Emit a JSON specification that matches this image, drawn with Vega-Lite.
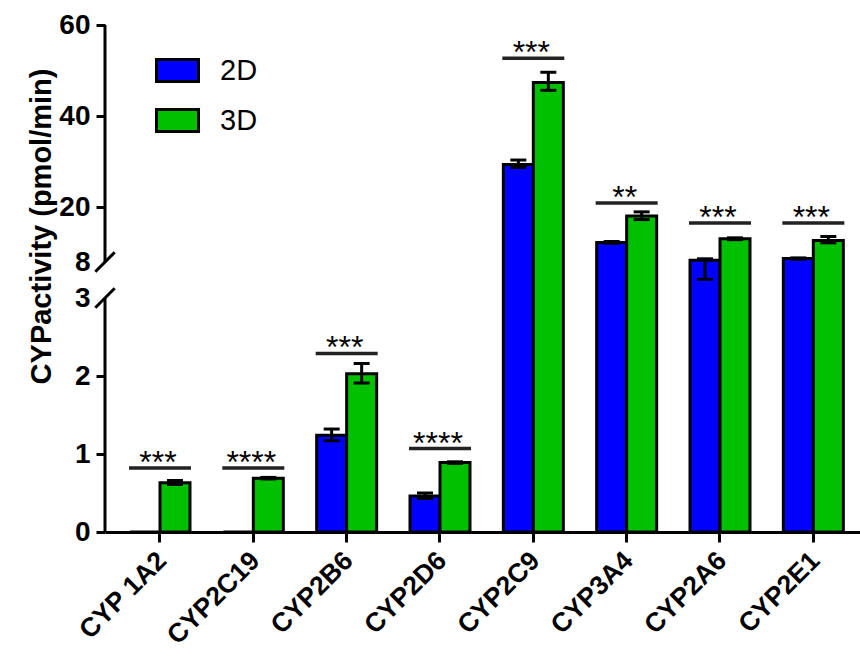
{
  "$schema": "https://vega.github.io/schema/vega-lite/v6.json",
  "width": 755,
  "height": 507,
  "autosize": {"type": "none"},
  "padding": {"left": 105, "top": 25, "right": 0, "bottom": 119},
  "config": {"view": {"stroke": null}, "font": "Liberation Sans"},
  "datasets": {
    "bars": [
      {"cyp": "CYP 1A2", "grp": "2D", "value": 0, "lo": null, "hi": null},
      {"cyp": "CYP 1A2", "grp": "3D", "value": 0.63, "lo": 0.61, "hi": 0.66},
      {"cyp": "CYP2C19", "grp": "2D", "value": 0, "lo": null, "hi": null},
      {"cyp": "CYP2C19", "grp": "3D", "value": 0.69, "lo": 0.68, "hi": 0.70},
      {"cyp": "CYP2B6", "grp": "2D", "value": 1.24, "lo": 1.17, "hi": 1.32},
      {"cyp": "CYP2B6", "grp": "3D", "value": 2.03, "lo": 1.91, "hi": 2.16},
      {"cyp": "CYP2D6", "grp": "2D", "value": 0.46, "lo": 0.43, "hi": 0.50},
      {"cyp": "CYP2D6", "grp": "3D", "value": 0.89, "lo": 0.88, "hi": 0.90},
      {"cyp": "CYP2C9", "grp": "2D", "value": 29.4, "lo": 28.75, "hi": 30.37},
      {"cyp": "CYP2C9", "grp": "3D", "value": 47.4, "lo": 45.67, "hi": 49.63},
      {"cyp": "CYP3A4", "grp": "2D", "value": 12.3, "lo": 12.1, "hi": 12.5},
      {"cyp": "CYP3A4", "grp": "3D", "value": 18.1, "lo": 17.3, "hi": 19.0},
      {"cyp": "CYP2A6", "grp": "2D", "value": 8.4, "lo": 5.6, "hi": 8.7},
      {"cyp": "CYP2A6", "grp": "3D", "value": 13.1, "lo": 12.9, "hi": 13.3},
      {"cyp": "CYP2E1", "grp": "2D", "value": 8.75, "lo": 8.6, "hi": 8.9},
      {"cyp": "CYP2E1", "grp": "3D", "value": 12.7, "lo": 12.2, "hi": 13.6}
    ],
    "sig": [
      {"cyp": "CYP 1A2", "y": 0.82, "label": "***"},
      {"cyp": "CYP2C19", "y": 0.82, "label": "****"},
      {"cyp": "CYP2B6", "y": 2.29, "label": "***"},
      {"cyp": "CYP2D6", "y": 1.07, "label": "****"},
      {"cyp": "CYP2C9", "y": 52.7, "label": "***"},
      {"cyp": "CYP3A4", "y": 20.95, "label": "**"},
      {"cyp": "CYP2A6", "y": 16.55, "label": "***"},
      {"cyp": "CYP2E1", "y": 16.55, "label": "***"}
    ],
    "axisseg": [{"lo": 0, "hi": 3}, {"lo": 8, "hi": 60}],
    "axisbreak": [{"at": 8}, {"at": 3}]
  },
  "layer": [
    {
      "layer": [
        {
          "data": {"name": "bars"},
          "mark": {"type": "bar", "stroke": "black", "strokeWidth": 3, "opacity": 1},
          "encoding": {
            "x": {
              "field": "cyp", "type": "nominal",
              "scale": {"domain": ["CYP 1A2", "CYP2C19", "CYP2B6", "CYP2D6", "CYP2C9", "CYP3A4", "CYP2A6", "CYP2E1"], "paddingInner": 0, "paddingOuter": 0.0446, "align": 1},
              "axis": {
                "orient": "bottom",
                "title": null, "labelAngle": -45, "labelFontSize": 26.5, "labelFontWeight": "bold", "labelColor": "black",
                "domainColor": "black", "domainWidth": 3, "tickColor": "black", "tickWidth": 3, "tickSize": 10,
                "labelPadding": 5, "labelOffset": -7, "grid": false, "labelOverlap": false, "labelLimit": 0
              }
            },
            "xOffset": {"field": "grp", "type": "nominal", "scale": {"domain": ["2D", "3D"], "paddingInner": 0, "paddingOuter": 0.556}},
            "y": {
              "field": "value", "type": "quantitative",
              "scale": {"type": "linear", "domain": [0, 3, 8, 60], "range": [507, 273, 237, 0], "nice": false, "zero": false},
              "axis": {
                "orient": "left",
                "title": "CYPactivity (pmol/min)", "titleFontSize": 29, "titleFontWeight": "bold", "titleColor": "black",
                "titlePadding": 2, "titleY": 201,
                "values": [0, 1, 2, 3, 8, 20, 40, 60], "domain": false, "grid": false,
                "tickColor": "black", "tickWidth": 3, "tickSize": 9,
                "tickOpacity": {"condition": {"test": "datum.value == 3 || datum.value == 8", "value": 0}, "value": 1},
                "labelFontSize": 28, "labelFontWeight": "bold", "labelColor": "black", "labelPadding": 6
              }
            },
            "color": {
              "field": "grp", "type": "nominal",
              "scale": {"domain": ["2D", "3D"], "range": ["#0000FF", "#00C000"]},
              "legend": {
                "title": null, "orient": "none", "legendX": 50, "legendY": 23, "padding": 0,
                "symbolType": "M-1,-0.52H1V0.52H-1Z", "symbolSize": 1764,
                "symbolStrokeColor": "black", "symbolStrokeWidth": 3, "symbolOpacity": 1,
                "labelFontSize": 29, "labelColor": "black", "labelOffset": 20, "rowPadding": 10
              }
            }
          }
        },
        {
          "data": {"name": "bars"},
          "transform": [{"filter": {"field": "lo", "valid": true}}],
          "mark": {"type": "rule", "color": "black", "strokeWidth": 3},
          "encoding": {
            "x": {"field": "cyp", "type": "nominal"},
            "xOffset": {"field": "grp", "type": "nominal"},
            "y": {"field": "lo", "type": "quantitative"},
            "y2": {"field": "hi"}
          }
        },
        {
          "data": {"name": "bars"},
          "transform": [{"filter": {"field": "lo", "valid": true}}],
          "mark": {"type": "tick", "color": "black", "size": 16, "thickness": 3, "opacity": 1},
          "encoding": {
            "x": {"field": "cyp", "type": "nominal"},
            "xOffset": {"field": "grp", "type": "nominal"},
            "y": {"field": "hi", "type": "quantitative"}
          }
        },
        {
          "data": {"name": "bars"},
          "transform": [{"filter": {"field": "lo", "valid": true}}],
          "mark": {"type": "tick", "color": "black", "size": 16, "thickness": 3, "opacity": 1},
          "encoding": {
            "x": {"field": "cyp", "type": "nominal"},
            "xOffset": {"field": "grp", "type": "nominal"},
            "y": {"field": "lo", "type": "quantitative"}
          }
        },
        {
          "data": {"name": "sig"},
          "mark": {"type": "tick", "color": "#222222", "size": 62, "thickness": 3.5, "opacity": 1},
          "encoding": {
            "x": {"field": "cyp", "type": "nominal"},
            "y": {"field": "y", "type": "quantitative"}
          }
        },
        {
          "data": {"name": "sig"},
          "mark": {"type": "text", "fontSize": 32, "color": "black", "baseline": "alphabetic", "dy": 5, "dx": -2},
          "encoding": {
            "x": {"field": "cyp", "type": "nominal"},
            "y": {"field": "y", "type": "quantitative"},
            "text": {"field": "label"}
          }
        }
      ]
    },
    {
      "data": {"name": "axisseg"},
      "mark": {"type": "rule", "color": "black", "strokeWidth": 3},
      "encoding": {
        "x": {"datum": 0, "type": "quantitative", "scale": {"domain": [0, 1]}, "axis": null},
        "y": {"field": "lo", "type": "quantitative"},
        "y2": {"field": "hi"}
      }
    },
    {
      "data": {"name": "axisbreak"},
      "mark": {"type": "point", "shape": "M-1,1L1,-1", "filled": false, "stroke": "black", "strokeWidth": 3, "size": 376, "opacity": 1},
      "encoding": {
        "x": {"datum": 0, "type": "quantitative", "scale": {"domain": [0, 1]}, "axis": null},
        "y": {"field": "at", "type": "quantitative"}
      }
    }
  ],
  "resolve": {"scale": {"x": "independent"}}
}
